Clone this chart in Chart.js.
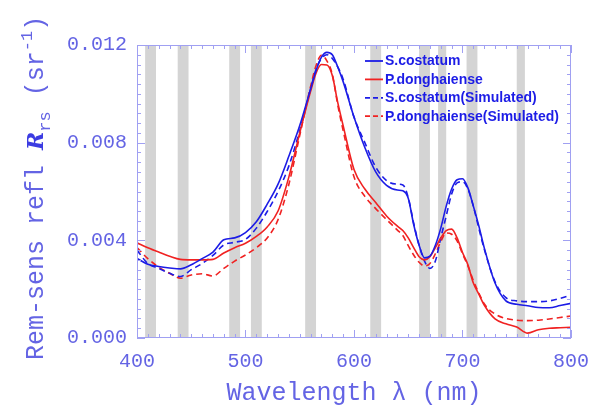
<!DOCTYPE html>
<html>
<head>
<meta charset="utf-8">
<script src="https://cdn.jsdelivr.net/npm/chart.js@4.4.1/dist/chart.umd.min.js"></script>
<style>
    body { margin: 0; background: #fff; }
    #wrap { width: 601px; height: 406px; position: relative; }
</style>
</head>
<body>
<div id="wrap"><canvas id="rrsChart"></canvas></div>
<script>
// wavelengths (nm) shared by all four spectra
const wavelengths = [400, 410, 420, 430, 440, 450, 460, 470, 480, 490, 500, 510, 520, 530, 540, 550, 560, 565, 570, 575, 580, 585, 590, 600, 610, 620, 630, 640, 645, 650, 655, 660, 665, 670, 675, 680, 685, 690, 695, 700, 705, 710, 715, 720, 730, 740, 750, 760, 770, 780, 790, 800];

// remote-sensing reflectance Rrs (sr^-1)
const costatumMeasured = [0.00326, 0.00302, 0.00293, 0.00287, 0.00283, 0.00300, 0.00325, 0.00352, 0.00402, 0.00410, 0.00432, 0.00476, 0.00548, 0.00630, 0.00745, 0.00870, 0.01020, 0.01095, 0.01150, 0.01170, 0.01160, 0.01110, 0.01050, 0.00905, 0.00780, 0.00680, 0.00625, 0.00606, 0.00603, 0.00572, 0.00465, 0.00380, 0.00328, 0.00335, 0.00380, 0.00450, 0.00540, 0.00610, 0.00648, 0.00652, 0.00615, 0.00540, 0.00460, 0.00370, 0.00225, 0.00152, 0.00138, 0.00132, 0.00125, 0.00124, 0.00133, 0.00142];
const donghaienseMeasured = [0.00390, 0.00370, 0.00352, 0.00335, 0.00322, 0.00320, 0.00320, 0.00322, 0.00348, 0.00370, 0.00388, 0.00416, 0.00455, 0.00520, 0.00660, 0.00840, 0.01010, 0.01085, 0.01120, 0.01118, 0.01075, 0.00965, 0.00870, 0.00690, 0.00610, 0.00555, 0.00500, 0.00458, 0.00440, 0.00410, 0.00370, 0.00333, 0.00320, 0.00333, 0.00370, 0.00410, 0.00440, 0.00446, 0.00410, 0.00350, 0.00300, 0.00225, 0.00180, 0.00135, 0.00078, 0.00058, 0.00045, 0.00020, 0.00034, 0.00040, 0.00042, 0.00044];
const costatumSimulated = [0.00360, 0.00305, 0.00285, 0.00265, 0.00252, 0.00280, 0.00305, 0.00338, 0.00381, 0.00392, 0.00404, 0.00450, 0.00518, 0.00600, 0.00705, 0.00850, 0.01020, 0.01100, 0.01145, 0.01160, 0.01145, 0.01110, 0.01060, 0.00905, 0.00800, 0.00700, 0.00645, 0.00630, 0.00627, 0.00575, 0.00470, 0.00380, 0.00315, 0.00285, 0.00315, 0.00410, 0.00500, 0.00590, 0.00635, 0.00640, 0.00610, 0.00540, 0.00450, 0.00365, 0.00230, 0.00165, 0.00152, 0.00149, 0.00149, 0.00152, 0.00162, 0.00176];
const donghaienseSimulated = [0.00370, 0.00325, 0.00290, 0.00265, 0.00245, 0.00258, 0.00263, 0.00254, 0.00285, 0.00315, 0.00340, 0.00370, 0.00410, 0.00485, 0.00630, 0.00830, 0.01030, 0.01115, 0.01158, 0.01135, 0.01080, 0.00955, 0.00850, 0.00660, 0.00580, 0.00530, 0.00485, 0.00442, 0.00420, 0.00378, 0.00340, 0.00310, 0.00295, 0.00305, 0.00345, 0.00395, 0.00430, 0.00425, 0.00398, 0.00345, 0.00295, 0.00235, 0.00185, 0.00140, 0.00098, 0.00080, 0.00073, 0.00071, 0.00073, 0.00078, 0.00084, 0.00090];

// MERIS band centres and widths (nm) shaded behind the curves
const bandCenters = [412.5, 442.5, 490, 510, 560, 620, 665, 681.25, 708.75, 753.75];
const bandWidths = [10, 10, 10, 10, 10, 10, 10, 7.5, 10, 7.5];

const seriesNames = ["S.costatum", "P.donghaiense", "S.costatum(Simulated)", "P.donghaiense(Simulated)"];

const BLUE = "#1c1ce6";
const RED = "#f02222";
const AXIS_TEXT = "#6464e4";
const FRAME = "#a0a0f2";
const MONO = "'Liberation Mono', 'DejaVu Sans Mono', monospace";

function toPoints(values) {
    return wavelengths.map((w, i) => ({ x: w, y: values[i] }));
}

function makeSet(label, values, color, dashed) {
    return {
        label: label,
        data: toPoints(values),
        borderColor: color,
        backgroundColor: color,
        borderWidth: 1.6,
        borderDash: dashed ? [6, 4] : [],
        pointRadius: 0,
        cubicInterpolationMode: "monotone",
        fill: false
    };
}

// grey band shading, drawn under the spectra
const bandShading = {
    id: "bandShading",
    beforeDatasetsDraw(chart) {
        const { ctx, chartArea, scales } = chart;
        ctx.save();
        ctx.fillStyle = "#d4d4d4";
        bandCenters.forEach((c, i) => {
            const x0 = scales.x.getPixelForValue(c - bandWidths[i] / 2);
            const x1 = scales.x.getPixelForValue(c + bandWidths[i] / 2);
            ctx.fillRect(x0, chartArea.top, x1 - x0, chartArea.bottom - chartArea.top);
        });
        ctx.restore();
    }
};

// frame, inward major/minor ticks, titles and the legend box
const decorations = {
    id: "decorations",
    afterDraw(chart) {
        const { ctx, chartArea: a, scales } = chart;
        ctx.save();
        ctx.strokeStyle = FRAME;
        ctx.lineWidth = 1;
        ctx.strokeRect(a.left + 0.5, a.top + 0.5, a.right - a.left - 1, a.bottom - a.top - 1);

        ctx.beginPath();
        for (let w = 400; w <= 800; w += 10) {
            const x = Math.round(scales.x.getPixelForValue(w)) + 0.5;
            const len = w % 100 === 0 ? 8 : 4;
            ctx.moveTo(x, a.bottom); ctx.lineTo(x, a.bottom - len);
            ctx.moveTo(x, a.top); ctx.lineTo(x, a.top + len);
        }
        for (let k = 0; k <= 30; k++) {
            const v = k * 0.0004;
            const y = Math.round(scales.y.getPixelForValue(v)) + 0.5;
            const len = k % 10 === 0 ? 8 : 4;
            ctx.moveTo(a.left, y); ctx.lineTo(a.left + len, y);
            ctx.moveTo(a.right, y); ctx.lineTo(a.right - len, y);
        }
        ctx.stroke();

        // x axis title
        ctx.fillStyle = AXIS_TEXT;
        ctx.font = "25px " + MONO;
        ctx.textAlign = "center";
        ctx.textBaseline = "alphabetic";
        ctx.fillText("Wavelength \u03bb (nm)", (a.left + a.right) / 2, 400);

        // y axis title, rotated, with script R, subscript and superscript
        ctx.translate(43, 360);
        ctx.rotate(-Math.PI / 2);
        ctx.textAlign = "left";
        let x = 0;
        const put = (text, font, dy, color) => {
            ctx.font = font;
            ctx.fillStyle = color || AXIS_TEXT;
            ctx.fillText(text, x, dy);
            x += ctx.measureText(text).width;
        };
        put("Rem-sens refl ", "25px " + MONO, 0);
        put("R", "bold italic 22px 'DejaVu Serif', serif", 0, "#3c3ce2");
        put("rs", "17px " + MONO, 7);
        put(" (sr", "25px " + MONO, 0);
        put("-1", "17px " + MONO, -11);
        put(")", "25px " + MONO, 0);
        ctx.restore();

        // legend inside the plot, top right
        ctx.save();
        const rows = [
            [BLUE, false], [RED, false], [BLUE, true], [RED, true]
        ];
        ctx.font = "bold 14px 'Liberation Sans', Arial, sans-serif";
        ctx.textBaseline = "middle";
        ctx.textAlign = "left";
        rows.forEach((r, i) => {
            const y = 61 + i * 18.4;
            ctx.strokeStyle = r[0];
            ctx.lineWidth = 1.8;
            ctx.setLineDash(r[1] ? [5, 3] : []);
            ctx.beginPath();
            ctx.moveTo(365, y); ctx.lineTo(383, y);
            ctx.stroke();
            ctx.fillStyle = BLUE;
            ctx.fillText(seriesNames[i], 385, y + 0.5);
        });
        ctx.restore();
    }
};

const ctx = document.getElementById("rrsChart").getContext("2d");
new Chart(ctx, {
    type: "line",
    data: {
        datasets: [
            makeSet(seriesNames[0], costatumMeasured, BLUE, false),
            makeSet(seriesNames[1], donghaienseMeasured, RED, false),
            makeSet(seriesNames[2], costatumSimulated, BLUE, true),
            makeSet(seriesNames[3], donghaienseSimulated, RED, true)
        ]
    },
    options: {
        responsive: true,
        maintainAspectRatio: false,
        animation: false,
        layout: { padding: { top: 45, right: 26, left: 0, bottom: 0 } },
        plugins: {
            legend: { display: false },
            tooltip: { enabled: false }
        },
        scales: {
            x: {
                type: "linear",
                min: 400,
                max: 800,
                grid: { display: false, drawTicks: false },
                border: { display: false },
                ticks: {
                    stepSize: 100,
                    padding: 12,
                    color: AXIS_TEXT,
                    font: { family: MONO, size: 20 },
                    maxRotation: 0
                },
                afterFit: function (scale) { scale.height = 68; }
            },
            y: {
                min: 0,
                max: 0.012,
                grid: { display: false, drawTicks: false },
                border: { display: false },
                ticks: {
                    stepSize: 0.004,
                    padding: 10,
                    color: AXIS_TEXT,
                    font: { family: MONO, size: 20 },
                    callback: function (value) { return value.toFixed(3); }
                },
                afterFit: function (scale) { scale.width = 137; }
            }
        }
    },
    plugins: [bandShading, decorations]
});
</script>
</body>
</html>
